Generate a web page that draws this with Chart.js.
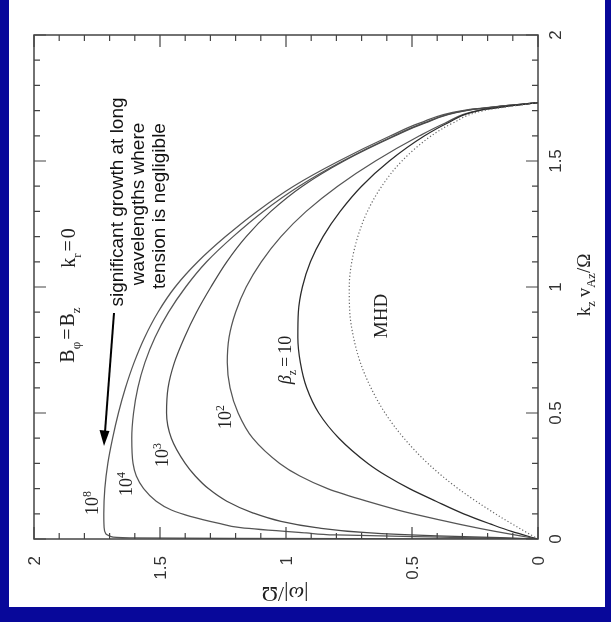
<!DOCTYPE html>
<html>
<head>
<meta charset="utf-8">
<script src="https://cdn.jsdelivr.net/npm/chart.js@4.4.0/dist/chart.umd.min.js"></script>
<style>
  html, body { margin: 0; padding: 0; background: #fff; }
  #wrap { position: relative; width: 611px; height: 622px; }
</style>
</head>
<body>
<div id="wrap"><canvas id="growth-chart" width="611" height="622"></canvas></div>
<script>
// growth rate |w|/Omega vs k_z v_Az/Omega, figure turned on its side
const tickValues = [0, 0.5, 1, 1.5, 2];
const tickLabels = ['0', '0.5', '1', '1.5', '2'];

// MHD (dotted)
const kMHD = [0, 0.05, 0.1, 0.2, 0.3, 0.4, 0.5, 0.6, 0.7, 0.8, 0.9, 1.0, 1.1, 1.2, 1.3, 1.4, 1.5, 1.6, 1.65, 1.7, 1.732];
const wMHD = [0, 0.086, 0.169, 0.317, 0.437, 0.532, 0.607, 0.663, 0.705, 0.732, 0.747, 0.749, 0.739, 0.715, 0.677, 0.62, 0.54, 0.423, 0.339, 0.216, 0];

// beta_z = 10
const kB1 = [0, 0.03, 0.06, 0.1, 0.15, 0.2, 0.25, 0.3, 0.4, 0.5, 0.6, 0.7, 0.8, 0.9, 1.0, 1.1, 1.2, 1.3, 1.4, 1.5, 1.6, 1.65, 1.7, 1.732];
const wB1 = [0, 0.105, 0.19, 0.295, 0.405, 0.51, 0.6, 0.675, 0.79, 0.87, 0.918, 0.943, 0.953, 0.951, 0.935, 0.903, 0.853, 0.785, 0.70, 0.59, 0.45, 0.36, 0.235, 0];

// beta_z = 10^2
const kB2 = [0, 0.012, 0.03, 0.056, 0.085, 0.115, 0.15, 0.2, 0.25, 0.3, 0.4, 0.5, 0.6, 0.7, 0.8, 0.9, 1.0, 1.1, 1.2, 1.3, 1.4, 1.5, 1.6, 1.65, 1.7, 1.732];
const wB2 = [0, 0.07, 0.17, 0.30, 0.43, 0.555, 0.68, 0.835, 0.945, 1.025, 1.132, 1.19, 1.222, 1.233, 1.226, 1.20, 1.158, 1.098, 1.02, 0.92, 0.795, 0.645, 0.47, 0.37, 0.24, 0];

// beta_z = 10^3
const kB3 = [0, 0.005, 0.012, 0.025, 0.045, 0.07, 0.103, 0.15, 0.2, 0.25, 0.3, 0.4, 0.5, 0.6, 0.7, 0.8, 0.9, 1.0, 1.1, 1.2, 1.3, 1.4, 1.5, 1.6, 1.65, 1.7, 1.732];
const wB3 = [0, 0.15, 0.40, 0.68, 0.88, 1.02, 1.13, 1.235, 1.308, 1.36, 1.40, 1.455, 1.474, 1.468, 1.443, 1.403, 1.355, 1.298, 1.235, 1.158, 1.06, 0.935, 0.77, 0.566, 0.45, 0.285, 0];

// beta_z = 10^4
const kB4 = [0, 0.004, 0.008, 0.016, 0.024, 0.045, 0.063, 0.09, 0.115, 0.15, 0.2, 0.25, 0.3, 0.4, 0.5, 0.6, 0.7, 0.8, 0.9, 1.0, 1.1, 1.2, 1.3, 1.4, 1.5, 1.6, 1.65, 1.7, 1.732];
const wB4 = [0, 0.2, 0.43, 0.8, 0.92, 1.18, 1.27, 1.38, 1.455, 1.515, 1.565, 1.594, 1.607, 1.612, 1.605, 1.588, 1.56, 1.52, 1.466, 1.398, 1.315, 1.21, 1.09, 0.948, 0.775, 0.572, 0.455, 0.29, 0];

// beta_z = 10^8
const kB8 = [0, 0.0008, 0.002, 0.004, 0.01, 0.02, 0.05, 0.1, 0.2, 0.3, 0.4, 0.5, 0.6, 0.7, 0.8, 0.9, 1.0, 1.1, 1.2, 1.3, 1.4, 1.5, 1.6, 1.65, 1.7, 1.732];
const wB8 = [0, 0.5, 1.2, 1.62, 1.695, 1.715, 1.722, 1.723, 1.719, 1.707, 1.688, 1.665, 1.637, 1.603, 1.561, 1.508, 1.44, 1.35, 1.24, 1.115, 0.97, 0.79, 0.585, 0.47, 0.30, 0];

const serif = '"Liberation Serif", "DejaVu Serif", serif';
const sans = '"Liberation Sans", Arial, sans-serif';
const UP = -Math.PI / 2; // text reading bottom to top

function toPoints(ks, ws) {
    return ks.map((k, i) => ({ x: ws[i], y: k }));
}

function curve(ks, ws, color, dotted) {
    return {
        data: toPoints(ks, ws),
        borderColor: color,
        borderWidth: dotted ? 1.2 : 1.25,
        borderDash: dotted ? [1.2, 2.2] : [],
        fill: false,
        pointRadius: 0,
        cubicInterpolationMode: 'monotone'
    };
}

// draw a piece of text made of parts (sub/superscripts), centred on (cx, cy)
function drawParts(ctx, parts, cx, cy, angle, size, family, shift) {
    ctx.save();
    ctx.translate(cx, cy);
    ctx.rotate(angle);
    ctx.textAlign = 'left';
    ctx.textBaseline = 'alphabetic';
    const fontOf = p => (p.italic ? 'italic ' : '') + ((p.sub || p.sup) ? size * 0.66 : size) + 'px ' + family;
    const widths = parts.map(p => {
        if (p.gap) return p.gap;
        ctx.font = fontOf(p);
        return ctx.measureText(p.t).width;
    });
    let x = -widths.reduce((a, b) => a + b, 0) / 2;
    parts.forEach((p, i) => {
        if (!p.gap) {
            ctx.font = fontOf(p);
            const dy = p.sub ? size * 0.28 : p.sup ? -size * 0.4 : 0;
            ctx.fillText(p.t, x, shift + dy);
        }
        x += widths[i];
    });
    ctx.restore();
}

const framePlugin = {
    id: 'frame',
    beforeDraw(chart) {
        const ctx = chart.ctx;
        ctx.save();
        ctx.fillStyle = '#ffffff';
        ctx.fillRect(0, 0, chart.width, chart.height);
        // slide background peeking out on three sides
        ctx.fillStyle = '#08089a';
        ctx.fillRect(0, 0, 9, chart.height);
        ctx.fillRect(605, 0, chart.width - 605, chart.height);
        ctx.fillRect(0, 607, chart.width, chart.height - 607);
        ctx.restore();
    },
    afterDraw(chart) {
        const ctx = chart.ctx;
        const xs = chart.scales.x;
        const ys = chart.scales.y;
        const { left, right, top, bottom } = chart.chartArea;
        ctx.save();

        // box
        ctx.strokeStyle = '#444';
        ctx.lineWidth = 1.5;
        ctx.strokeRect(left, top, right - left, bottom - top);

        // inward ticks on all four sides
        ctx.lineWidth = 1.2;
        ctx.beginPath();
        for (let i = 0; i <= 20; i++) {
            const v = i / 10;
            const len = i % 5 === 0 ? 12 : 6;
            const px = xs.getPixelForValue(v);
            const py = ys.getPixelForValue(v);
            ctx.moveTo(px, bottom); ctx.lineTo(px, bottom - len);
            ctx.moveTo(px, top); ctx.lineTo(px, top + len);
            ctx.moveTo(left, py); ctx.lineTo(left + len, py);
            ctx.moveTo(right, py); ctx.lineTo(right - len, py);
        }
        ctx.stroke();

        // tick labels, turned like the rest of the figure
        ctx.fillStyle = '#333';
        ctx.font = '17px ' + sans;
        ctx.textBaseline = 'alphabetic';
        tickValues.forEach((v, i) => {
            const px = xs.getPixelForValue(v);
            ctx.save();
            ctx.translate(px, bottom + 17);
            ctx.rotate(UP);
            ctx.textAlign = 'right';
            ctx.fillText(tickLabels[i], 0, 6);
            ctx.restore();

            const py = ys.getPixelForValue(v);
            ctx.save();
            ctx.translate(right + 17, py);
            ctx.rotate(UP);
            ctx.textAlign = 'center';
            ctx.fillText(tickLabels[i], 0, 6);
            ctx.restore();
        });

        // axis titles
        ctx.fillStyle = '#222';
        drawParts(ctx, [{ t: 'k' }, { t: 'z', sub: true }, { gap: 4 }, { t: 'v' }, { t: 'Az', sub: true }, { t: '/' }, { t: 'Ω' }],
            584, 285, UP, 19, serif, 6);
        drawParts(ctx, [{ t: '|' }, { t: 'ω', italic: true }, { t: '|' }, { t: '/' }, { t: 'Ω' }],
            285, 594, Math.PI, 22, serif, 7);

        // annotations
        drawParts(ctx, [{ t: 'B' }, { t: 'φ', sub: true }, { gap: 2 }, { t: '=' }, { gap: 2 }, { t: 'B' }, { t: 'z', sub: true }],
            67, 335, UP, 20, serif, 7);
        drawParts(ctx, [{ t: 'k' }, { t: 'r', sub: true }, { gap: 2 }, { t: '=' }, { gap: 2 }, { t: '0' }],
            68, 248, UP, 20, serif, 7);

        ctx.fillStyle = '#111';
        drawParts(ctx, [{ t: 'significant growth at long' }], 118, 202, UP, 19, sans, 5);
        drawParts(ctx, [{ t: 'wavelengths where' }], 139, 204, UP, 19, sans, 5);
        drawParts(ctx, [{ t: 'tension is negligible' }], 160, 206, UP, 19, sans, 5);

        // arrow
        ctx.strokeStyle = '#000';
        ctx.lineWidth = 2;
        ctx.beginPath();
        ctx.moveTo(114, 313);
        ctx.lineTo(105, 432);
        ctx.stroke();
        ctx.fillStyle = '#000';
        ctx.beginPath();
        ctx.moveTo(104, 446);
        ctx.lineTo(99.5, 430);
        ctx.lineTo(109.5, 431);
        ctx.closePath();
        ctx.fill();

        // curve labels
        ctx.fillStyle = '#222';
        drawParts(ctx, [{ t: '10' }, { t: '8', sup: true }], 92, 503, UP, 18, serif, 6);
        drawParts(ctx, [{ t: '10' }, { t: '4', sup: true }], 126, 484, UP, 18, serif, 6);
        drawParts(ctx, [{ t: '10' }, { t: '3', sup: true }], 162, 455, UP, 18, serif, 6);
        drawParts(ctx, [{ t: '10' }, { t: '2', sup: true }], 225, 417, UP, 18, serif, 6);
        drawParts(ctx, [{ t: 'β', italic: true }, { t: 'z', sub: true }, { gap: 3 }, { t: '=' }, { gap: 3 }, { t: '10' }],
            285, 360, UP, 18, serif, 6);
        drawParts(ctx, [{ t: 'MHD' }], 381, 316, UP, 19, serif, 6);

        ctx.restore();
    }
};

const ctx = document.getElementById('growth-chart').getContext('2d');
new Chart(ctx, {
    type: 'line',
    data: {
        datasets: [
            curve(kMHD, wMHD, '#666', true),
            curve(kB1, wB1, '#2a2a2a', false),
            curve(kB2, wB2, '#555', false),
            curve(kB3, wB3, '#4a4a4a', false),
            curve(kB4, wB4, '#555', false),
            curve(kB8, wB8, '#555', false)
        ]
    },
    options: {
        responsive: false,
        animation: false,
        events: [],
        indexAxis: 'y',
        layout: { padding: { left: 34, top: 35, right: 73, bottom: 83 } },
        plugins: {
            legend: { display: false },
            tooltip: { enabled: false }
        },
        scales: {
            x: { type: 'linear', min: 0, max: 2, reverse: true, display: false },
            y: { type: 'linear', min: 0, max: 2, display: false }
        }
    },
    plugins: [framePlugin]
});
</script>
</body>
</html>
